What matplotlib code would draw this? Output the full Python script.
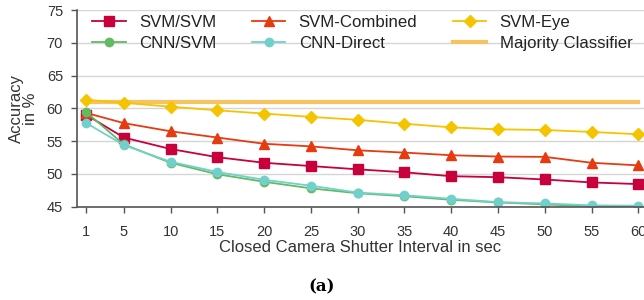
import matplotlib.pyplot as plt

# data
intervals = [1, 5, 10, 15, 20, 25, 30, 35, 40, 45, 50, 55, 60]
svm_svm = [59.0, 55.55, 53.8, 52.55, 51.7, 51.2, 50.7, 50.25, 49.65, 49.5, 49.15, 48.7, 48.45]
svm_combined = [59.3, 57.75, 56.5, 55.55, 54.6, 54.2, 53.6, 53.25, 52.85, 52.65, 52.6, 51.7, 51.3]
svm_eye = [61.3, 60.85, 60.25, 59.7, 59.2, 58.7, 58.25, 57.65, 57.1, 56.8, 56.7, 56.4, 56.05]
cnn_svm = [59.4, 54.5, 51.7, 49.95, 48.8, 47.8, 47.05, 46.6, 46.05, 45.65, 45.35, 45.05, 45.0]
cnn_direct = [57.75, 54.4, 51.85, 50.3, 49.1, 48.2, 47.15, 46.75, 46.2, 45.7, 45.5, 45.2, 45.15]
majority = 60.9

plt.rcParams['font.family'] = ['Liberation Sans', 'DejaVu Sans']

fig = plt.figure(figsize=(6.44, 3.0), dpi=100)
ax = fig.add_axes([77 / 644, 93.3 / 300, 567 / 644, 196.7 / 300])

ax.plot(intervals, svm_svm, color='#c8003c', marker='s', markersize=6.5, lw=1.3, label='SVM/SVM')
ax.plot(intervals, svm_combined, color='#e83a10', marker='^', markersize=6.5, lw=1.3, label='SVM-Combined')
ax.plot(intervals, svm_eye, color='#f5c400', marker='D', markersize=6.5, lw=1.3, label='SVM-Eye')
ax.plot(intervals, cnn_svm, color='#62ba62', marker='o', markersize=6, lw=1.3, label='CNN/SVM')
ax.plot(intervals, cnn_direct, color='#72d0cc', marker='o', markersize=6, lw=1.3, label='CNN-Direct')
ax.plot([intervals[0], intervals[-1]], [majority, majority], color='#f6c363', lw=3,
        label='Majority Classifier', zorder=1)

ax.set_xlim(0, 60.6)
ax.set_ylim(45, 75)
ax.set_xticks(intervals)
ax.set_yticks(range(45, 80, 5))
ax.yaxis.grid(True, color='#d6d6d6', lw=1)
ax.set_axisbelow(True)
for s in ['top', 'right']:
    ax.spines[s].set_visible(False)
for s in ['left', 'bottom']:
    ax.spines[s].set_color('#555555')
    ax.spines[s].set_linewidth(1.2)
ax.tick_params(axis='x', length=4, width=1, colors='#555555', pad=9, labelsize=10.5, labelcolor='#333333')
ax.tick_params(axis='y', length=4, width=1, colors='#555555', pad=6, labelsize=10.5, labelcolor='#333333')

ax.set_xlabel('Closed Camera Shutter Interval in sec', fontsize=12, color='#333333', labelpad=1)
ax.set_ylabel('Accuracy\nin %', fontsize=12, color='#333333', linespacing=0.95, labelpad=6)

# legend order: row 1 SVM/SVM, SVM-Combined, SVM-Eye; row 2 the rest
handles, labels = ax.get_legend_handles_labels()
order = [0, 3, 1, 4, 2, 5]
ax.legend([handles[i] for i in order], [labels[i] for i in order], ncol=3, frameon=False,
          loc='upper left', bbox_to_anchor=(0.0, 1.05), fontsize=12.1, handlelength=2.0,
          columnspacing=2.1, labelspacing=0.35, handletextpad=0.8, labelcolor='#222222')

fig.text(0.5, 0.03, '(a)', ha='center', fontsize=12, fontweight='bold', family='DejaVu Serif')

fig.savefig('out.png', dpi=100)
